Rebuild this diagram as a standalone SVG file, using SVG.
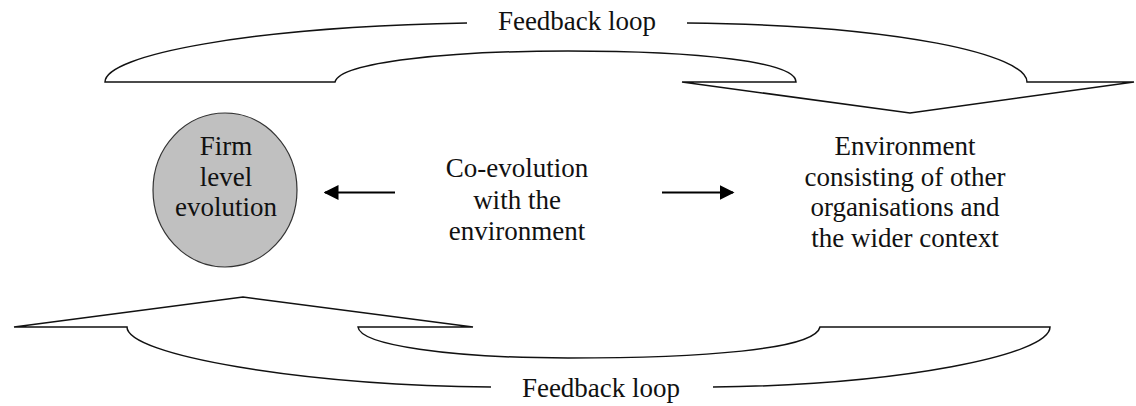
<svg xmlns="http://www.w3.org/2000/svg" width="1136" height="406" viewBox="0 0 1136 406">
<style>
.t{font-family:"Liberation Serif","Times New Roman",serif;font-size:27px;fill:#111;text-anchor:middle}
.loop{fill:none;stroke:#111;stroke-width:1.5;stroke-linejoin:miter}
.arr{stroke:#000;stroke-width:2;fill:none}
</style>
<defs>
<marker id="ah" viewBox="0 0 10 10" refX="9" refY="5" markerWidth="7.5" markerHeight="7.5" orient="auto" markerUnits="strokeWidth">
<path d="M0,0 L10,5 L0,10 Z" fill="#000"/>
</marker>
</defs>
<rect width="1136" height="406" fill="#fff"/>
<g id="connectors">
<path id="feedback-top" class="loop" d="M467,23 C250,27 105,55 105,82 L335,82 C340,62 450,51 568,51 C700,51 796,62 796,82 L682,82 L910,113 L1134,82 L1027,82 C1027,55 900,25 687,23"/>
<path id="feedback-bottom" class="loop" d="M491,387 C300,385 127,355 127,327 L14,327 L243,297 L473,327 L358,327 C360,345 450,358 568,358 C700,358 815,350 820,327 L1050,327 C1050,355 900,385 713,387"/>
<line class="arr" x1="395" y1="192.5" x2="325" y2="192.5" marker-end="url(#ah)"/>
<line class="arr" x1="662" y1="192.5" x2="733" y2="192.5" marker-end="url(#ah)"/>
</g>
<g id="label-top"><text class="t" x="577" y="30">Feedback loop</text></g>
<g id="label-bottom"><text class="t" x="601" y="397">Feedback loop</text></g>
<g id="firm">
<ellipse cx="225" cy="190" rx="72" ry="77" fill="#c0c0c0" stroke="#333" stroke-width="1.2"/>
<text class="t" x="226" y="155">Firm</text>
<text class="t" x="226" y="185.5">level</text>
<text class="t" x="226" y="216">evolution</text>
</g>
<g id="coevolution">
<text class="t" x="517" y="177">Co-evolution</text>
<text class="t" x="517" y="208.5">with the</text>
<text class="t" x="517" y="240">environment</text>
</g>
<g id="environment">
<text class="t" x="905" y="155">Environment</text>
<text class="t" x="905" y="185.5">consisting of other</text>
<text class="t" x="905" y="216">organisations and</text>
<text class="t" x="905" y="247">the wider context</text>
</g>
</svg>
